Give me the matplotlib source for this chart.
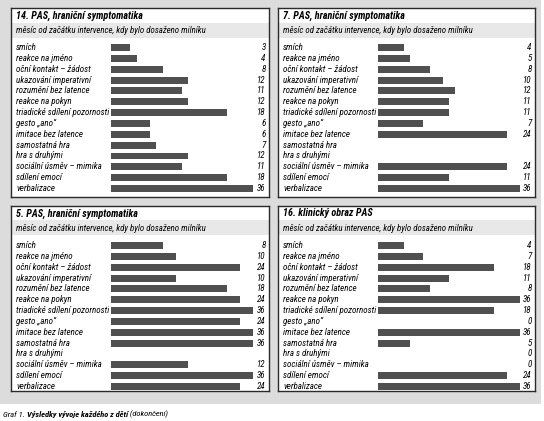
import matplotlib
matplotlib.use("Agg")
import matplotlib.pyplot as plt
import matplotlib.transforms as mtransforms
from matplotlib.patches import Rectangle
import numpy as np

# milestones (rows) and months per child
labels = ["smích", "reakce na jméno", "oční kontakt – žádost", "ukazování imperativní",
          "rozumění bez latence", "reakce na pokyn", "triadické sdílení pozornosti",
          "gesto „ano“", "imitace bez latence", "samostatná hra", "hra s druhými",
          "sociální úsměv – mimika", "sdílení emocí", "verbalizace"]

titles = ["14. PAS, hraniční symptomatika", "7. PAS, hraniční symptomatika",
          "5. PAS, hraniční symptomatika", "16. klinický obraz PAS"]
subtitle = "měsíc od začátku intervence, kdy bylo dosaženo milníku"

child14 = [3, 4, 8, 12, 11, 12, 18, 6, 6, 7, 12, 11, 18, 36]
child7 = [4, 5, 8, 10, 12, 11, 11, 7, 24, None, None, 24, 11, 36]
child5 = [8, 10, 24, 10, 18, 24, 36, 24, 36, 36, None, 12, 36, 24]
child16 = [4, 7, 18, 11, 8, 36, 18, 0, 36, 5, 0, 0, 24, 36]

W, H = 544, 421
FONT = ["Roboto Condensed", "Open Sans Condensed", "Liberation Sans Narrow", "DejaVu Sans"]
fs = 6.5


def fwd(x):
    # axis is linear to 18 months, then compressed for 24 and 36
    x = np.asarray(x, dtype=float)
    return np.where(x <= 18, x, np.where(x <= 24, 18 + (x - 18) / 3, 20 + (x - 24) / 6))


def inv(y):
    y = np.asarray(y, dtype=float)
    return np.where(y <= 18, y, np.where(y <= 20, 18 + (y - 18) * 3, 24 + (y - 20) * 6))


fig = plt.figure(figsize=(W / 100, H / 100), dpi=100)
fig.patch.set_facecolor("white")

bg = fig.add_axes([0, 1 - 404 / H, 541 / W, 404 / H])
bg.set_facecolor("#dcdcdc")
bg.set_xticks([])
bg.set_yticks([])
for s in bg.spines.values():
    s.set_visible(False)


def panel(x0, y0, x1, y1, bar_x0, val_x, title, values):
    fr = fig.add_axes([x0 / W, 1 - y1 / H, (x1 - x0) / W, (y1 - y0) / H])
    fr.set_xlim(x0, x1)
    fr.set_ylim(y1, y0)
    fr.set_facecolor("white")
    fr.set_xticks([])
    fr.set_yticks([])
    for s in fr.spines.values():
        s.set_edgecolor("#2a2a2a")
        s.set_linewidth(1.0)
    fr.add_patch(Rectangle((x0, y0 + 14.5), x1 - x0, 15, facecolor="#e8e8e8", edgecolor="none"))
    fr.text(x0 + 5, y0 + 7.5, title, family=FONT, style="italic", weight="bold",
            fontsize=7.3, va="center", ha="left")
    fr.text(x0 + 5, y0 + 22, subtitle, family=FONT, style="italic",
            fontsize=6.4, va="center", ha="left")

    first, step = y0 + 39.5, 10.85
    n = len(labels)
    top = first - step / 2
    bot = first + step * (n - 1) + step / 2
    ba = fig.add_axes([bar_x0 / W, 1 - bot / H, 142 / W, (bot - top) / H])
    ba.set_xscale("function", functions=(fwd, inv))
    ba.set_xlim(0, 36)
    ba.set_ylim(n - 0.5, -0.5)
    ba.axis("off")
    pos = np.arange(n)
    widths = [0 if v is None else v for v in values]
    ba.barh(pos, widths, height=0.64, color="#505050", edgecolor="none")

    tr = mtransforms.blended_transform_factory(fr.transData, ba.transData)
    for i, (lab, v) in enumerate(zip(labels, values)):
        ba.text(x0 + 5, i, lab, transform=tr, family=FONT, style="italic",
                fontsize=fs, va="center", ha="left", clip_on=False)
        if v is not None:
            ba.text(val_x, i, str(v), transform=tr, family=FONT, style="italic",
                    fontsize=fs, va="center", ha="right", clip_on=False)


panel(11, 8, 269, 197, 111, 265.5, titles[0], child14)
panel(278, 8, 535, 197, 378, 531.5, titles[1], child7)
panel(11, 206, 269, 391, 111, 265.5, titles[2], child5)
panel(278, 206, 535, 391, 378, 531.5, titles[3], child16)

t1 = fig.text(3 / W, 1 - 415 / H, "Graf 1. ", family=FONT, style="italic",
              fontsize=6.0, va="center", ha="left")
t2 = bg.annotate("Výsledky vývoje každého z dětí", xy=(1, 0), xycoords=t1,
                 family=FONT, style="italic", weight="bold", fontsize=6.0,
                 va="bottom", ha="left", annotation_clip=False)
bg.annotate(" (dokončení)", xy=(1, 0), xycoords=t2, family=FONT, style="italic",
            fontsize=6.0, va="bottom", ha="left", annotation_clip=False)

fig.savefig("out.png", dpi=100, facecolor="white")
